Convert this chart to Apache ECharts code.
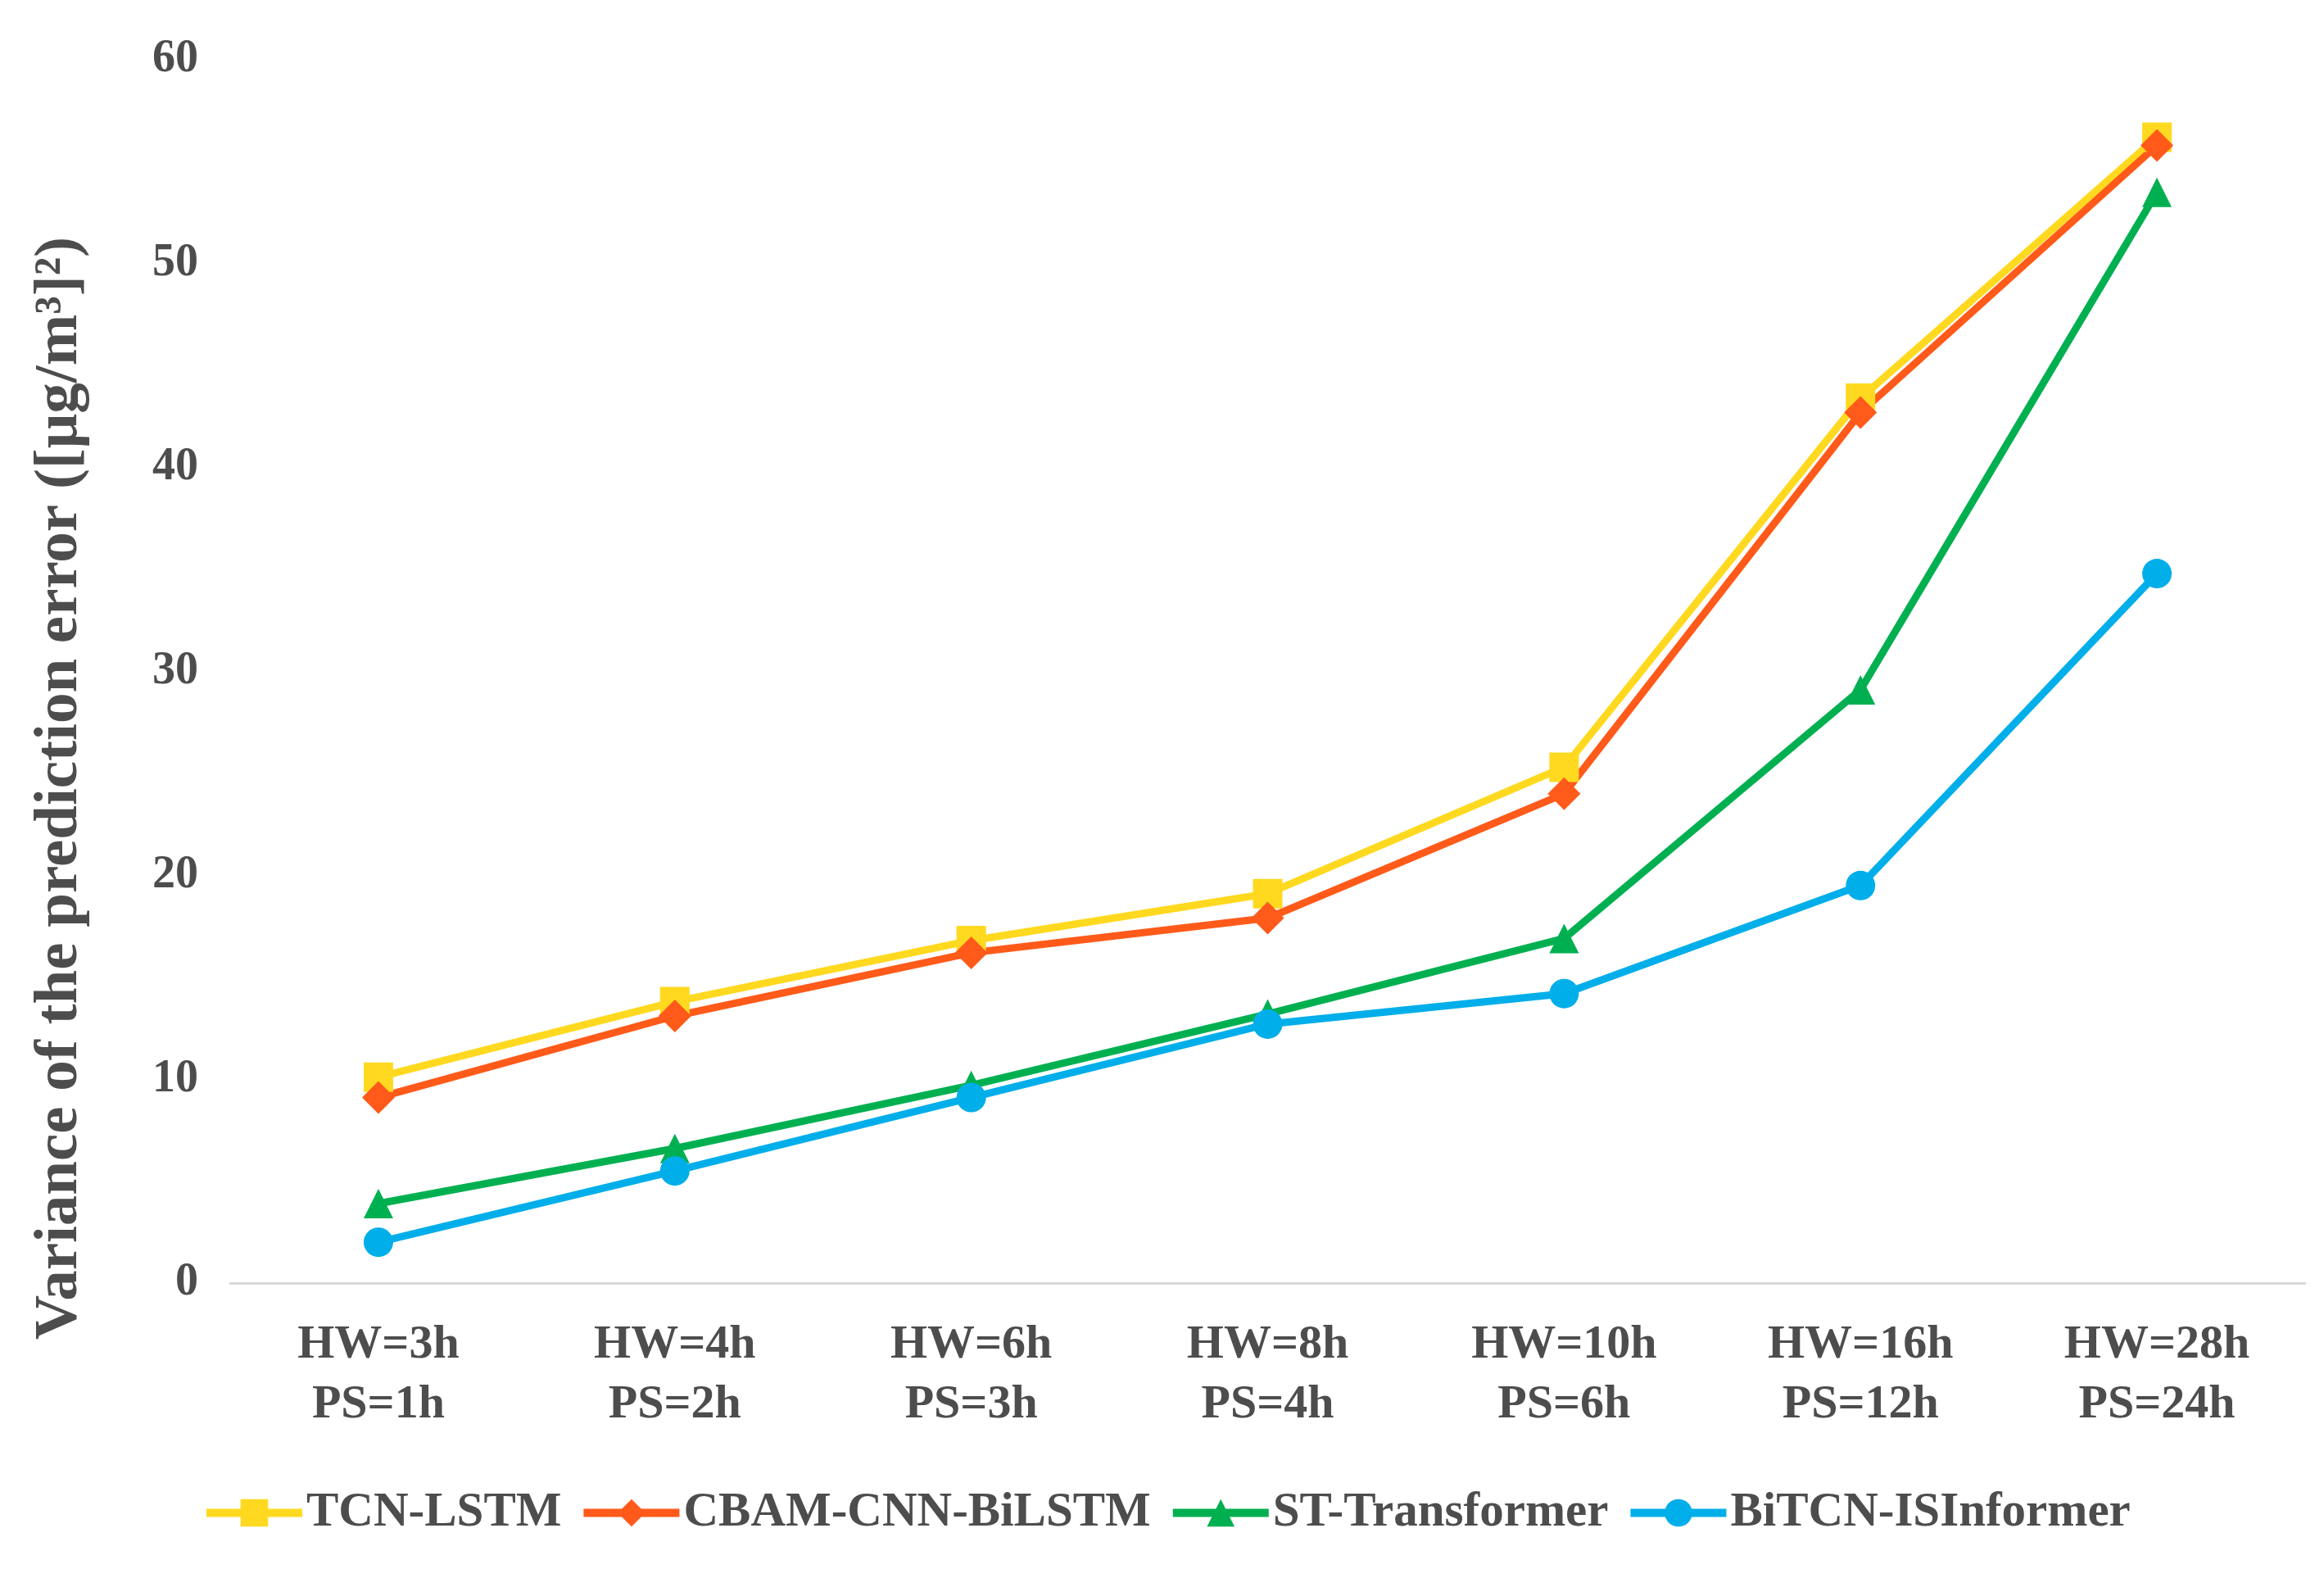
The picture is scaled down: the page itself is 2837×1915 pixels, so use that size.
<!DOCTYPE html>
<html>
<head>
<meta charset="utf-8">
<script src="https://cdn.jsdelivr.net/npm/echarts@6/dist/echarts.min.js"></script>
<style>
    html, body { margin: 0; padding: 0; background: #fff; }
    #chart1 { width: 2837px; height: 1915px; }
</style>
</head>
<body>
<div id="chart1"></div>
<script>
// categories (history window / prediction step)
var categories = ['HW=3h\nPS=1h', 'HW=4h\nPS=2h', 'HW=6h\nPS=3h', 'HW=8h\nPS=4h', 'HW=10h\nPS=6h', 'HW=16h\nPS=12h', 'HW=28h\nPS=24h'];
var seriesNames = ['TCN-LSTM', 'CBAM-CNN-BiLSTM', 'ST-Transformer', 'BiTCN-ISInformer'];
var tcnLstm = [10.1, 13.8, 16.8, 19.1, 25.3, 43.4, 56.2];
var cbamCnnBilstm = [9.1, 13.1, 16.2, 17.9, 24.0, 42.7, 55.8];
var stTransformer = [3.9, 6.6, 9.7, 13.2, 16.9, 29.1, 53.5];
var bitcnIsinformer = [2.0, 5.5, 9.1, 12.7, 14.2, 19.5, 34.8];

var colorList = ['#ffd91f', '#ff5a1a', '#00b050', '#00aeea'];
var symbolList = ['rect', 'diamond', 'triangle', 'circle'];
var textColor = '#4d4d4d';
var fontName = '"Liberation Serif", "Times New Roman", serif';

function makeSeries(i, data) {
    return {
        name: seriesNames[i],
        type: 'line',
        data: data,
        symbol: symbolList[i],
        symbolSize: i == 1 ? 40 : 36,
        showAllSymbol: true,
        lineStyle: { width: 9, color: colorList[i] },
        itemStyle: { color: colorList[i] }
    }
}

var chart1 = echarts.init(document.getElementById('chart1'));
var option = {
    animation: false,
    textStyle: { fontFamily: fontName },
    grid: {
        left: 281,
        right: 23,
        top: 73,
        bottom: 349
    },
    legend: {
        data: seriesNames,
        left: 242,
        top: 1812,
        itemWidth: 117,
        itemHeight: 42,
        itemGap: 22,
        lineStyle: { width: 10 },
        textStyle: {
            fontFamily: fontName,
            fontWeight: 'bold',
            fontSize: 59,
            color: textColor
        }
    },
    xAxis: {
        type: 'category',
        data: categories,
        boundaryGap: true,
        axisLine: { lineStyle: { color: '#d9d9d9', width: 3 } },
        axisTick: { show: false },
        axisLabel: {
            interval: 0,
            margin: 40,
            fontFamily: fontName,
            fontWeight: 'bold',
            fontSize: 58,
            lineHeight: 73,
            color: textColor
        }
    },
    yAxis: {
        type: 'value',
        min: 0,
        max: 60,
        interval: 10,
        name: 'Variance of the prediction error ([μg/m³]²)',
        nameLocation: 'middle',
        nameGap: 170,
        nameTextStyle: {
            fontFamily: fontName,
            fontWeight: 'bold',
            fontSize: 75,
            color: textColor,
            padding: [0, 285, 0, 0]
        },
        axisLine: { show: false },
        axisTick: { show: false },
        splitLine: { show: false },
        axisLabel: {
            margin: 39,
            fontFamily: fontName,
            fontWeight: 'bold',
            fontSize: 56,
            color: textColor
        }
    },
    series: [
        makeSeries(0, tcnLstm),
        makeSeries(1, cbamCnnBilstm),
        makeSeries(2, stTransformer),
        makeSeries(3, bitcnIsinformer)
    ]
};
chart1.setOption(option);
</script>
</body>
</html>
